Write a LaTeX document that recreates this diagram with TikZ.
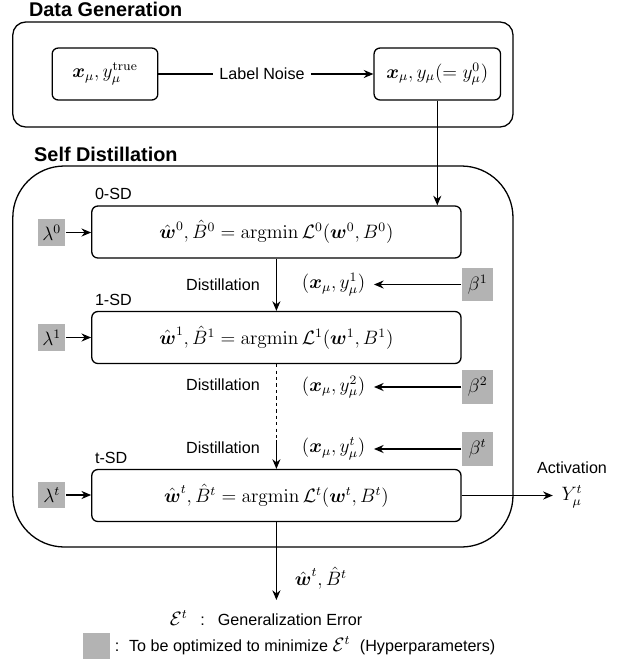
\documentclass[tikz,border=0pt]{standalone}
\usepackage{amsmath,amssymb}
\usepackage[no-math]{fontspec}
\setmainfont{Liberation Sans}
\usetikzlibrary{arrows.meta,positioning}

\definecolor{hyp}{RGB}{179,179,179}

\newcommand{\mfont}{\fontsize{12}{14}\selectfont}
\newcommand{\tfont}{\fontsize{10}{12}\selectfont}

\tikzset{
  grp/.style={draw, rounded corners=8pt},
  datbox/.style={draw, rounded corners=3.7pt, minimum height=32.2pt, inner sep=0pt, font=\mfont},
  sdbox/.style={draw, rounded corners=3.7pt, minimum width=228.9pt, minimum height=32.2pt, inner sep=0pt, font=\mfont},
  hyper/.style={fill=hyp, inner sep=0pt, minimum width=16.5pt, minimum height=16.7pt, font=\mfont},
  lbl/.style={font=\tfont, inner sep=0pt},
  mlbl/.style={font=\mfont, inner xsep=5pt, inner ysep=1pt},
  sdlbl/.style={font=\tfont, anchor=base west, inner sep=0pt, xshift=2pt, yshift=3.5pt},
  ttl/.style={font=\bfseries\fontsize{12.3}{14}\selectfont, anchor=base west, inner sep=0pt},
  arr/.style={-{Stealth[length=6pt,width=5pt]}},
}

\begin{document}
\begin{tikzpicture}[x=0.62pt, y=-0.62pt, line width=0.8pt]

    \useasboundingbox (0,0) rectangle (619,661);

    % data generation
    \node[ttl] (ttldata) at (28.5,16) {Data Generation};
    \draw[grp] (12.8,22) rectangle (513,127);
    \node[datbox, minimum width=65.5pt] (ytrue) at (105,74) {$\boldsymbol{x}_\mu, y_\mu^{\mathrm{true}}$};
    \node[datbox, minimum width=78.4pt] (ynoisy) at (437.3,74) {$\boldsymbol{x}_\mu, y_\mu(=y_\mu^0)$};
    \node[lbl, inner xsep=3.5pt] (noise) at (262,74) {Label Noise};
    \draw (ytrue) -- (noise);
    \draw[arr] (noise) -- (ynoisy);

    % self distillation
    \node[ttl] (ttlsd) at (33.6,161) {Self Distillation};
    \draw[grp, rounded corners=32pt] (12.8,166) rectangle (513,547);

    \node[sdbox] (sd0) at (276.4,232) {$\hat{\boldsymbol{w}}^0, \hat{B}^0 = \operatorname{argmin} \mathcal{L}^0(\boldsymbol{w}^0, B^0)$};
    \node[sdbox] (sd1) at (276.4,337.5) {$\hat{\boldsymbol{w}}^1, \hat{B}^1 = \operatorname{argmin} \mathcal{L}^1(\boldsymbol{w}^1, B^1)$};
    \node[sdbox] (sdt) at (276.4,495.5) {$\hat{\boldsymbol{w}}^t, \hat{B}^t = \operatorname{argmin} \mathcal{L}^t(\boldsymbol{w}^t, B^t)$};
    \node[sdlbl] (lab0) at (sd0.north west) {0-SD};
    \node[sdlbl] (lab1) at (sd1.north west) {1-SD};
    \node[sdlbl] (labt) at (sdt.north west) {t-SD};

    \node[hyper] (lam0) at (51.8,232.5) {$\lambda^0$};
    \node[hyper] (lam1) at (51.8,337.5) {$\lambda^1$};
    \node[hyper] (lamt) at (51.8,495) {$\lambda^t$};
    \draw[arr] (lam0.east) -- (lam0.east -| sd0.west);
    \draw[arr] (lam1.east) -- (lam1.east -| sd1.west);
    \draw[arr] (lamt.east) -- (lamt.east -| sdt.west);

    \draw[arr] (ynoisy) -- (ynoisy |- sd0.north);

    % distillation steps
    \node[hyper, minimum width=19.5pt, minimum height=20.5pt] (beta1) at (477.7,284.5) {$\beta^1$};
    \node[hyper, minimum width=19.5pt, minimum height=20.5pt] (beta2) at (477.7,387) {$\beta^2$};
    \node[hyper, minimum width=19.5pt, minimum height=20.5pt] (betat) at (477.7,449) {$\beta^t$};
    \node[mlbl] (in1) at (333.6,284.5) {$(\boldsymbol{x}_\mu, y_\mu^1)$};
    \node[mlbl] (in2) at (333.6,387) {$(\boldsymbol{x}_\mu, y_\mu^2)$};
    \node[mlbl] (int) at (333.6,449) {$(\boldsymbol{x}_\mu, y_\mu^t)$};
    \draw[arr] (beta1) -- (in1);
    \draw[arr] (beta2) -- (in2);
    \draw[arr] (betat) -- (int);
    \node[lbl] (dist1) at (223,285) {Distillation};
    \node[lbl] (dist2) at (223,385) {Distillation};
    \node[lbl] (distt) at (223,448) {Distillation};

    \coordinate (skip) at (276.4,440);
    \draw[arr] (sd0) -- (sd1);
    \draw[dash pattern=on 2pt off 2pt] (sd1) -- (skip);
    \draw[arr] (skip) -- (sdt);

    % output
    \node[mlbl] (yout) at (572,497) {$Y_\mu^t$};
    \node[lbl] (act) at (572,468) {Activation};
    \draw[arr] (sdt.east) -- (sdt.east -| yout.west);

    \coordinate (wend) at (276.4,600);
    \draw[arr] (sdt) -- (wend);
    \node[font=\mfont, inner sep=0pt] (wout) at (321,578) {$\hat{\boldsymbol{w}}^t, \hat{B}^t$};
    \node[lbl] (generr) at (266,618) {{\mfont$\mathcal{E}^t$}\hspace{8pt}:\hspace{8pt}Generalization Error};

    % legend
    \node[hyper, minimum height=16.1pt] (key) at (96.3,646) {};
    \node[lbl, anchor=west, inner xsep=2.5pt] (keytxt) at (key.east) {:\hspace{6pt}To be optimized to minimize {\mfont$\mathcal{E}^t$}\hspace{6pt}(Hyperparameters)};

\end{tikzpicture}
\end{document}
